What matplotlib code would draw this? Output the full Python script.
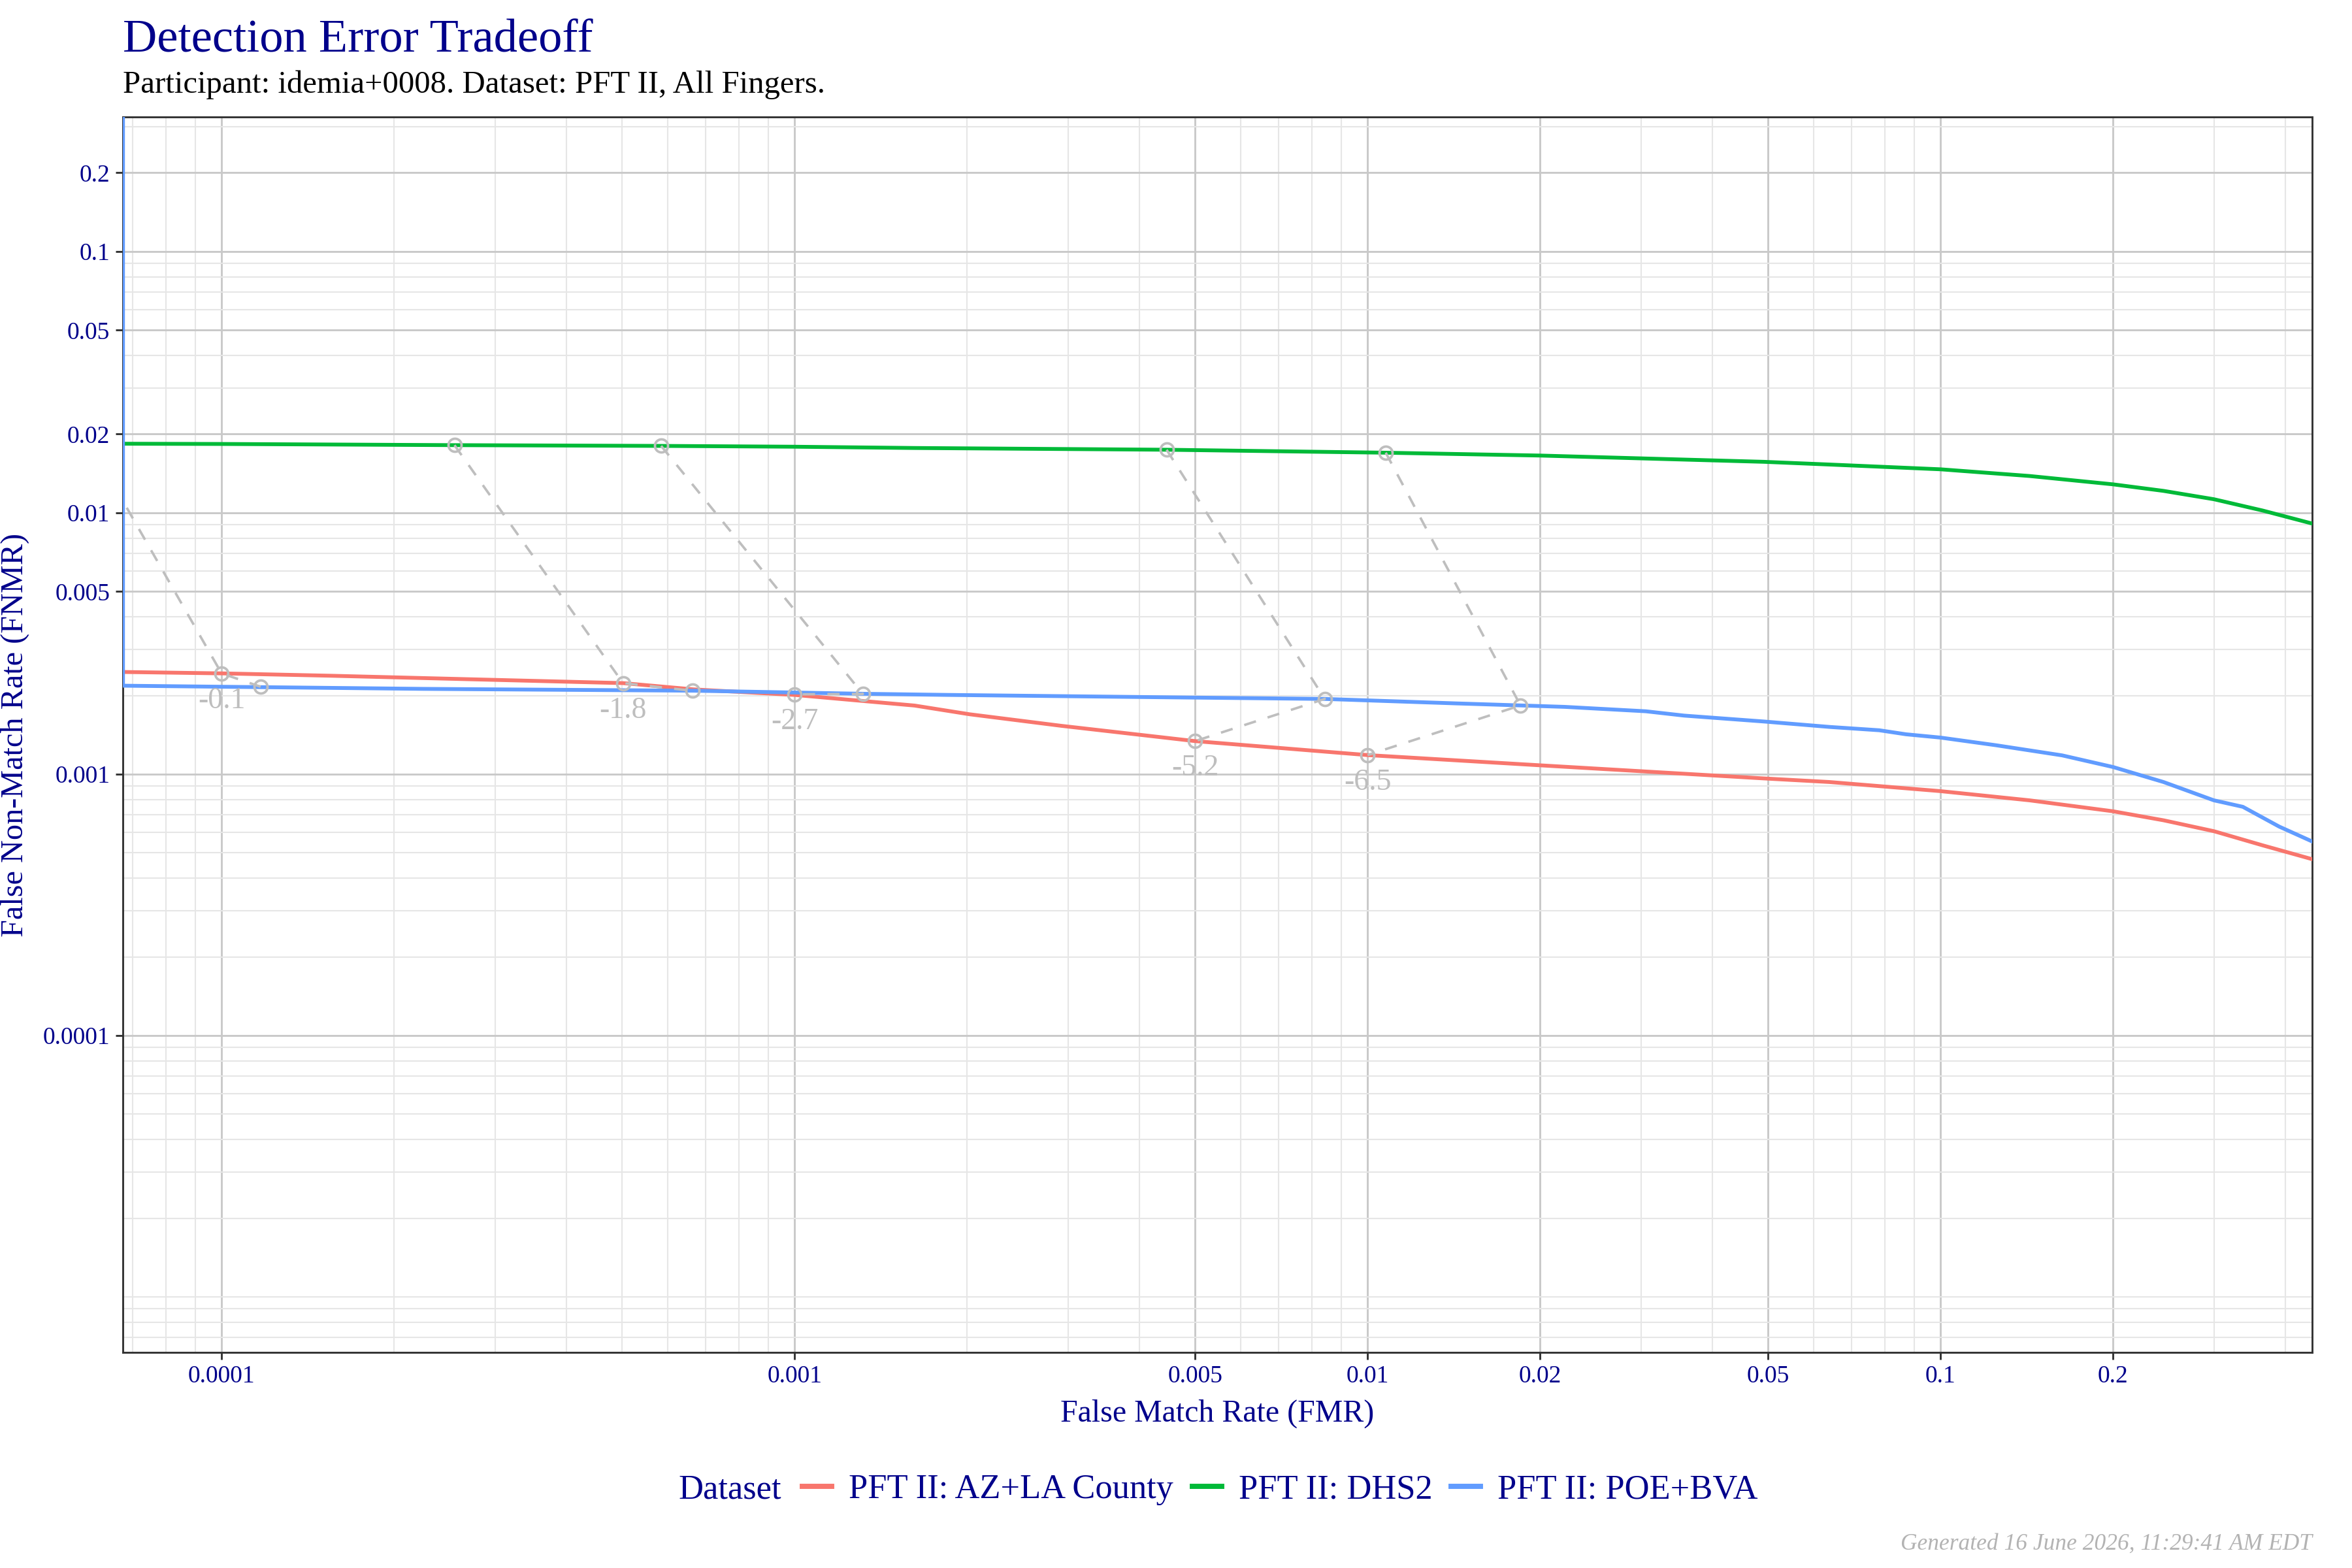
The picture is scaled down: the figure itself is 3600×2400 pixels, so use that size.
import numpy as np
import matplotlib.pyplot as plt
from matplotlib.ticker import FixedLocator, FixedFormatter, NullFormatter

# DET curves: (FMR, FNMR) pairs
az_fmr = [6.73e-5, 1.0e-4, 1.55e-4, 5.02e-4, 6.67e-4, 1.0e-3, 1.62e-3, 2.02e-3,
          2.92e-3, 5.0e-3, 1.0e-2, 2.0e-2, 4.92e-2, 6.4e-2, 0.1, 0.143, 0.2,
          0.245, 0.3, 0.365, 0.445]
az_fnmr = [0.00246, 0.00243, 0.00238, 0.00223, 0.00211, 0.00201, 0.00183, 0.001695,
           0.001531, 0.001338, 0.001183, 0.001081, 0.000963, 0.000933, 0.000861,
           0.000794, 0.000721, 0.000666, 0.000605, 0.000534, 0.000473]

dhs_fmr = [6.73e-5, 1.0e-4, 2.55e-4, 5.85e-4, 1.0e-3, 1.62e-3, 4.46e-3, 1.076e-2,
           2.0e-2, 4.92e-2, 6.4e-2, 0.1, 0.143, 0.2, 0.245, 0.3, 0.365, 0.445]
dhs_fnmr = [0.01838, 0.01834, 0.01815, 0.01803, 0.0179, 0.0177, 0.01743, 0.01698,
            0.01656, 0.01567, 0.0153, 0.01467, 0.01383, 0.01285, 0.01213, 0.01127,
            0.0102, 0.0091]

poe_fmr = [6.73e-5, 6.73e-5, 1.0e-4, 2.25e-4, 6.67e-4, 1.32e-3, 1.85e-3, 5.0e-3,
           8.42e-3, 1.43e-2, 1.85e-2, 2.21e-2, 3.06e-2, 3.57e-2, 4.92e-2, 6.4e-2,
           7.82e-2, 8.7e-2, 0.1, 0.125, 0.163, 0.2, 0.245, 0.3, 0.337, 0.39, 0.445]
poe_fnmr = [1.0, 0.00218, 0.00216, 0.00212, 0.002086, 0.00203, 0.00201, 0.001963,
            0.00194, 0.001865, 0.001832, 0.001809, 0.00174, 0.001675, 0.00159,
            0.001516, 0.001472, 0.001421, 0.00138, 0.00129, 0.00118, 0.001065,
            0.000933, 0.000794, 0.00075, 0.00063, 0.000553]

series_names = ["PFT II: AZ+LA County", "PFT II: DHS2", "PFT II: POE+BVA"]
series_colors = ["#F8766D", "#00BA38", "#619CFF"]

# threshold annotations: points on DHS2, then the two lower curves (path order)
thr_labels = ["-0.1", "-1.8", "-2.7", "-5.2", "-6.5"]
thr_path_fmr = [[5.9e-5, 1.0e-4, 1.17e-4],
                [2.55e-4, 5.02e-4, 6.63e-4],
                [5.85e-4, 1.316e-3, 1.0e-3],
                [4.46e-3, 8.42e-3, 5.0e-3],
                [1.076e-2, 1.849e-2, 1.0e-2]]
thr_path_fnmr = [[0.01834, 0.00243, 0.00216],
                 [0.01815, 0.00223, 0.002085],
                 [0.01803, 0.002027, 0.00202],
                 [0.01743, 0.00194, 0.001338],
                 [0.01698, 0.001832, 0.001183]]
thr_label_fmr = [1.0e-4, 5.02e-4, 1.0e-3, 5.0e-3, 1.0e-2]
thr_label_fnmr = [0.00243, 0.00223, 0.00202, 0.001338, 0.001183]

tick_vals = [1e-4, 1e-3, 5e-3, 1e-2, 2e-2, 5e-2, 0.1, 0.2]
tick_text = ["0.0001", "0.001", "0.005", "0.01", "0.02", "0.05", "0.1", "0.2"]

navy = "#00008B"
serif = ["Liberation Serif", "DejaVu Serif"]
plt.rcParams["font.family"] = serif

fig = plt.figure(figsize=(12, 8), dpi=300)
ax = fig.add_axes([0.0523, 0.1375, 0.9307, 0.7879])

ax.plot(az_fmr, az_fnmr, color=series_colors[0], lw=1.4, label=series_names[0], zorder=3)
ax.plot(dhs_fmr, dhs_fnmr, color=series_colors[1], lw=1.4, label=series_names[1], zorder=3)
ax.plot(poe_fmr, poe_fnmr, color=series_colors[2], lw=1.4, label=series_names[2], zorder=3)

for fx, fy in zip(thr_path_fmr, thr_path_fnmr):
    ax.plot(fx, fy, color="#BEBEBE", lw=0.9, dashes=(5, 5), zorder=4,
            marker="o", ms=4.8, mfc="none", mec="#BEBEBE", mew=0.9)
for lab, lx, ly in zip(thr_labels, thr_label_fmr, thr_label_fnmr):
    ax.annotate(lab, (lx, ly), xytext=(0, -10), textcoords="offset points",
                ha="center", va="center", color="#BEBEBE", fontsize=11, zorder=5)

ax.set_xscale("log")
ax.set_yscale("log")
ax.set_xlim(6.73e-5, 0.445)
ax.set_ylim(6.13e-6, 0.327)

minor = [n * 10.0 ** k for k in range(-7, 0) for n in range(1, 10)]
minor = [m for m in minor if not any(abs(m - t) / t < 1e-6 for t in tick_vals)]
for axis in (ax.xaxis, ax.yaxis):
    axis.set_major_locator(FixedLocator(tick_vals))
    axis.set_major_formatter(FixedFormatter(tick_text))
    axis.set_minor_locator(FixedLocator(minor))
    axis.set_minor_formatter(NullFormatter())

ax.grid(which="major", color="#C9C9C9", lw=0.7, zorder=0)
ax.grid(which="minor", color="#E6E6E6", lw=0.5, zorder=0)
ax.set_axisbelow(True)
ax.tick_params(which="major", length=2.6, width=0.7, color="#333333",
               labelcolor=navy, labelsize=9, pad=2.2)
ax.tick_params(which="minor", length=0)
for sp in ax.spines.values():
    sp.set_color("#333333")
    sp.set_linewidth(0.7)

ax.set_xlabel("False Match Rate (FMR)", color=navy, fontsize=11.5, labelpad=4)
ax.set_ylabel("False Non-Match Rate (FNMR)", color=navy, fontsize=11.6, labelpad=5)

fig.text(0.0523, 0.9667, "Detection Error Tradeoff", color=navy, fontsize=17.4,
         ha="left", va="baseline")
fig.text(0.0523, 0.9408, "Participant: idemia+0008. Dataset: PFT II, All Fingers.",
         color="black", fontsize=11.7, ha="left", va="baseline")

fig.text(0.3323, 0.05, "Dataset", color=navy, fontsize=12.6, ha="right", va="center")
leg = fig.legend(loc="center left", bbox_to_anchor=(0.3412, 0.05), ncol=3,
                 frameon=False, fontsize=12.6, handlelength=0.85, handletextpad=0.5,
                 columnspacing=0.55, borderpad=0, borderaxespad=0)
for t in leg.get_texts():
    t.set_color(navy)
for h in leg.legend_handles:
    h.set_linewidth(1.9)

fig.text(0.983, 0.0117, "Generated 16 June 2026, 11:29:41 AM EDT", color="#B3B3B3",
         fontsize=8.5, style="italic", ha="right", va="baseline")

fig.savefig("out.png", dpi=300)
